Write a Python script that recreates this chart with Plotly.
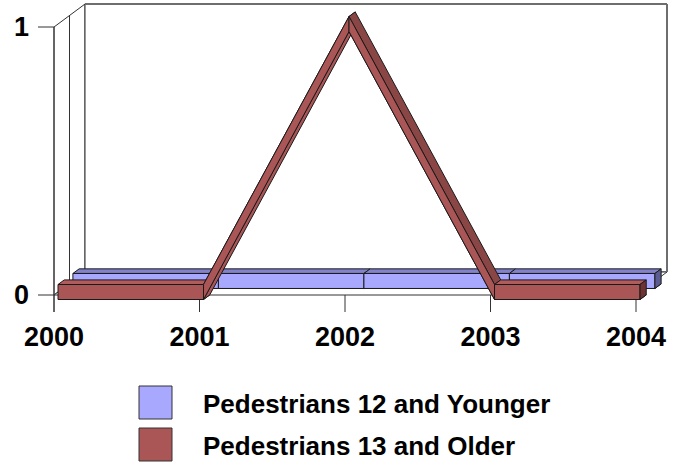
import plotly.graph_objects as go

# ---------------- data ----------------
years = ["2000", "2001", "2002", "2003", "2004"]
series_names = ["Pedestrians 12 and Younger", "Pedestrians 13 and Older"]
younger = [0, 0, 0, 0, 0]
older = [0, 0, 1, 0, 0]
y_ticks = [0, 1]

# ---------------- geometry (pixels of the 682x463 window) ----------------
W, H = 682, 463
PL, PR, PT, PB = 30, 676, 0, 314            # plot area in pixels
X0PX, UX = 54, 145.5                        # px of first category, px per category
Y0PX, UY = 295, 268                         # px of value 0, px per unit value
DZX, DZY = 15.5, -11.5                      # px per depth unit (2 units total)

xr = [(PL - X0PX) / UX, (PR - X0PX) / UX]
yr = [(Y0PX - PB) / UY, (Y0PX - PT) / UY]

def P(x, y, z=0.0, dypx=0.0):
    """data coords of point at category x, value y, depth z, vertical px shift"""
    return (x + z * DZX / UX, y - (z * DZY + dypx) / UY)

fig = go.Figure()

def poly(pts, fill, line="#1a1a1a", width=1):
    xs = [p[0] for p in pts] + [pts[0][0]]
    ys = [p[1] for p in pts] + [pts[0][1]]
    fig.add_trace(go.Scatter(x=xs, y=ys, mode="lines", fill="toself",
                             fillcolor=fill, line=dict(color=line, width=width),
                             hoverinfo="skip", showlegend=False))

def seg(p, q, color="#333333", width=1):
    fig.add_trace(go.Scatter(x=[p[0], q[0]], y=[p[1], q[1]], mode="lines",
                             line=dict(color=color, width=width),
                             hoverinfo="skip", showlegend=False))

n = len(years)
xmax = n - 1
ymax = max(y_ticks)

# walls and floor
poly([P(0, 0, 0), P(0, ymax, 0), P(0, ymax, 2), P(0, 0, 2)], "white", "#333333")
poly([P(0, 0, 2), P(0, ymax, 2), P(xmax, ymax, 2), P(xmax, 0, 2)], "white", "#333333")
poly([P(0, 0, 0), P(xmax, 0, 0), P(xmax, 0, 2), P(0, 0, 2)], "white", "#333333")
seg(P(0, 0, 1), P(0, ymax, 1))
seg(P(0, ymax, 2), P(xmax, ymax, 2), "#6e6e6e", 2)
seg(P(xmax, ymax, 2), P(xmax, 0, 2), "#6e6e6e", 2)

# tick marks
for i in range(n):
    seg(P(i, 0, 0, 0), P(i, 0, 0, 17))
seg(P(0, 0, 0, 17), P(0, ymax, 0))
for v in y_ticks:
    fig.add_trace(go.Scatter(x=[-16 / UX, 0], y=[v, v], mode="lines",
                             line=dict(color="#333333", width=1),
                             hoverinfo="skip", showlegend=False))

HH = 7.5  # half ribbon thickness in px
T = 0.4   # ribbon depth in depth units

def ribbon(vals, z0, front, top_flat, top_down, cap):
    for i in range(len(vals) - 1):
        a, b = (i, vals[i]), (i + 1, vals[i + 1])
        poly([P(*a, z0, HH), P(*b, z0, HH), P(*b, z0 + T, HH), P(*a, z0 + T, HH)], front)
        tc = top_down if b[1] < a[1] else top_flat
        poly([P(*a, z0, -HH), P(*b, z0, -HH), P(*b, z0 + T, -HH), P(*a, z0 + T, -HH)], tc)
        poly([P(*a, z0, -HH), P(*b, z0, -HH), P(*b, z0, HH), P(*a, z0, HH)], front)
    last = (len(vals) - 1, vals[-1])
    poly([P(*last, z0, -HH), P(*last, z0 + T, -HH), P(*last, z0 + T, HH), P(*last, z0, HH)], cap)

BLUE, BLUE_TOP, BLUE_CAP = "#A8A8FF", "#8282CC", "#5C5C92"
RED, RED_TOP, RED_DOWN, RED_CAP = "#AA5656", "#B05C5C", "#8A4545", "#6E3434"

ribbon(younger, 1.22, BLUE, BLUE_TOP, BLUE_TOP, BLUE_CAP)
ribbon(older, 0.26, RED, RED_TOP, RED_DOWN, RED_CAP)

# custom legend
def px2paper(x, y):
    return ((x - PL) / (PR - PL), (PB - y) / (PB - PT))

for k, (name, col) in enumerate(zip(series_names, [BLUE, RED])):
    top = 386 + 42 * k
    x0, y0 = px2paper(139, top)
    x1, y1 = px2paper(172, top + 33)
    fig.add_shape(type="rect", xref="paper", yref="paper", x0=x0, y0=y1, x1=x1, y1=y0,
                  fillcolor=col, line=dict(color="#333333", width=1))
    tx, ty = px2paper(202, top + 18)
    fig.add_annotation(xref="paper", yref="paper", x=tx, y=ty, text=f"<b>{name}</b>",
                       showarrow=False, xanchor="left", yanchor="middle", borderpad=0,
                       font=dict(family="Liberation Sans, Arial", size=26, color="black"))

fig.update_layout(
    width=W, height=H,
    margin=dict(l=PL, r=W - PR, t=PT, b=H - PB, autoexpand=False),
    paper_bgcolor="white", plot_bgcolor="white",
    showlegend=False,
    font=dict(family="Liberation Sans, Arial", size=27, color="black"),
    xaxis=dict(range=xr, tickvals=list(range(n)), ticktext=[f"<b>{y}</b>" for y in years],
               showgrid=False, zeroline=False, showline=False, ticks="",
               ticklabelstandoff=4, automargin=False, fixedrange=True),
    yaxis=dict(range=yr, tickvals=y_ticks, ticktext=[f"<b>{v}</b>" for v in y_ticks],
               showgrid=False, zeroline=False, showline=False, ticks="",
               ticklabelstandoff=0, automargin=False, fixedrange=True),
)

fig.write_html("out.html", config={"displayModeBar": False},
               post_script="document.body.style.margin='0';")
